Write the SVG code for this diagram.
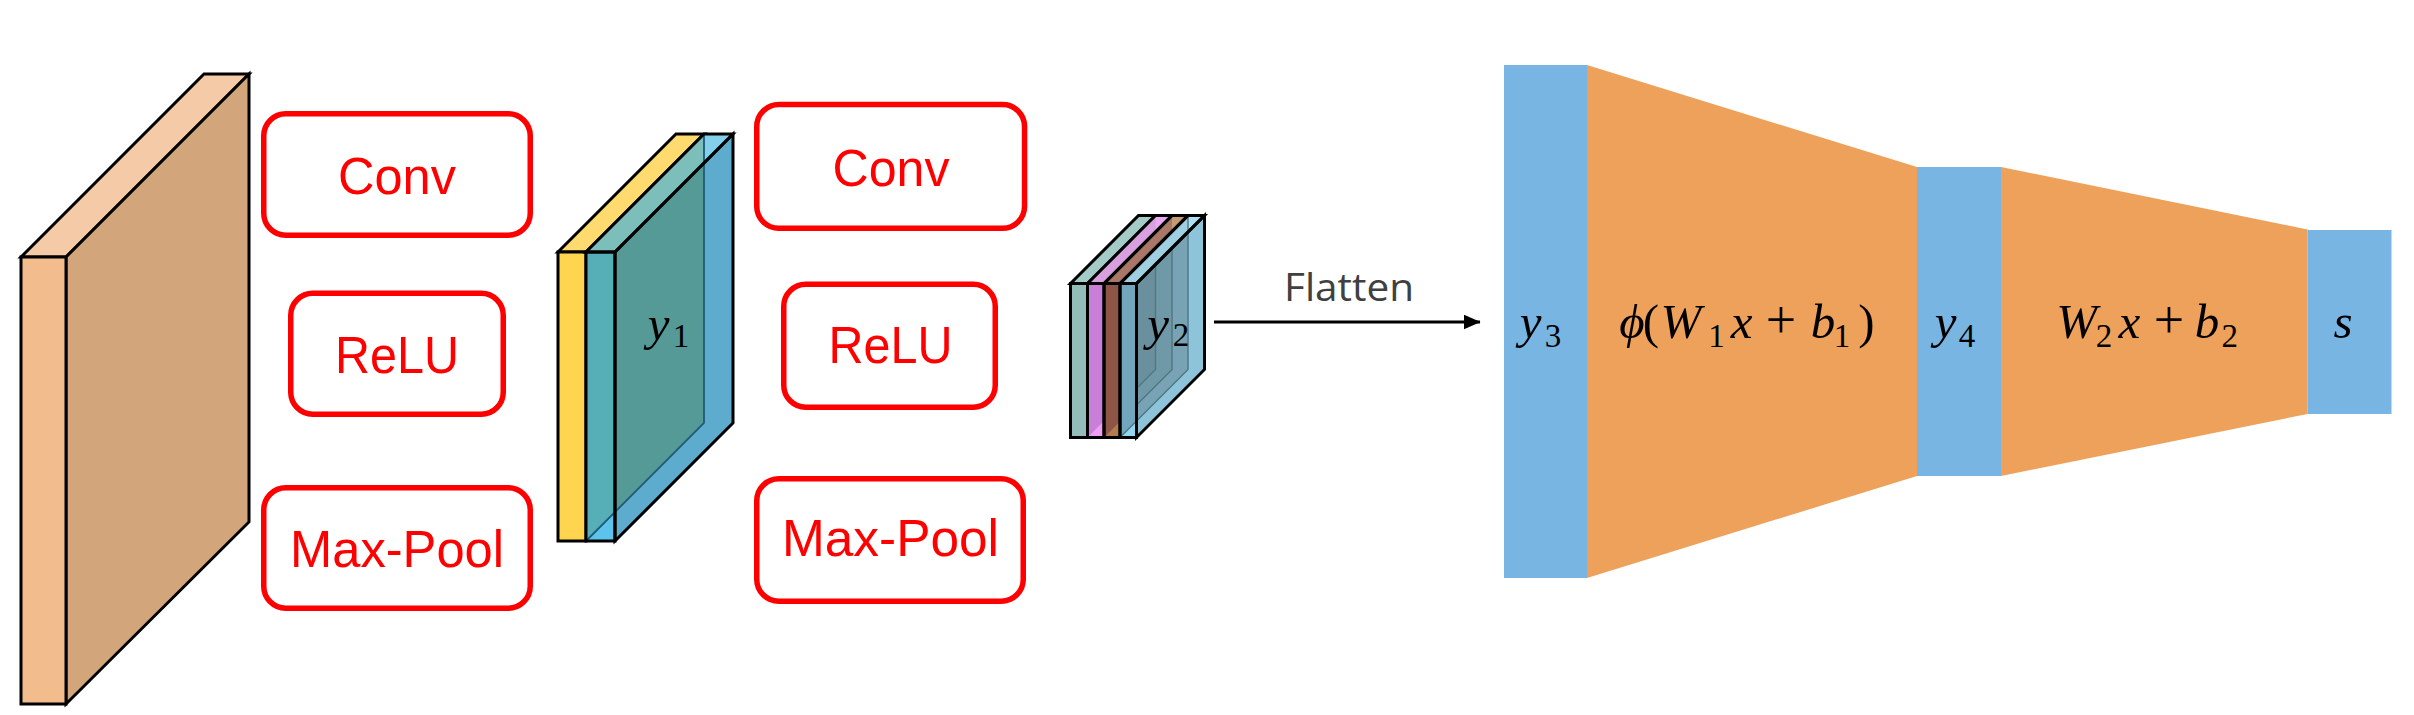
<svg xmlns="http://www.w3.org/2000/svg" width="2414" height="715" viewBox="0 0 2414 715">
  <style>
    .box { fill: #FFFFFF; stroke: #FF0000; stroke-width: 5.5; }
    .boxlabel { font-family: "Liberation Sans", Arial, sans-serif; font-size: 52px; fill: #FF0000; text-anchor: middle; }
    .edge { stroke: #000000; stroke-width: 3; stroke-linejoin: miter; }
    .hidden { fill: none; stroke: #1E5A78; stroke-width: 1.8; }
    .hidden2 { fill: none; stroke: #4E7684; stroke-width: 1.4; }
    .math { font-family: "Liberation Serif", "DejaVu Serif", serif; font-size: 49px; fill: #000000; text-anchor: middle; }
    .it { font-style: italic; }
    .sub { font-size: 33px; font-style: normal; }
    .op { font-size: 54px; }
    .bar { fill: #78B5E3; }
    .trap { fill: #EEA15A; }
    .flat { font-family: "Open Sans", "Liberation Sans", sans-serif; font-size: 38px; fill: #404040; text-anchor: middle; }
  </style>
  <defs>
    <marker id="arrowhead" markerWidth="6" markerHeight="6" refX="5.5" refY="2.5" orient="auto" markerUnits="strokeWidth">
      <path d="M0,0 L5.7,2.5 L0,5 Z" fill="#000000"/>
    </marker>
  </defs>
  <rect x="0" y="0" width="2414" height="715" fill="#FFFFFF"/>

  <!-- Input slab -->
  <g id="input">
    <polygon class="edge" points="21,257 204,74 249,74 66,257" fill="#F4CBA6"/>
    <polygon class="edge" points="66,257 249,74 249,522 66,704" fill="#D2A57B"/>
    <rect class="edge" x="21" y="257" width="45" height="447" fill="#F2BC8C"/>
  </g>

  <!-- First Conv / ReLU / Max-Pool -->
  <g id="conv1">
    <rect class="box" x="263.75" y="113.75" width="266.5" height="121.5" rx="22"/>
    <text class="boxlabel" x="397" y="194" textLength="118" lengthAdjust="spacingAndGlyphs">Conv</text>
  </g>
  <g id="relu1">
    <rect class="box" x="290.75" y="293.25" width="212.5" height="121" rx="22"/>
    <text class="boxlabel" x="397" y="373" textLength="124" lengthAdjust="spacingAndGlyphs">ReLU</text>
  </g>
  <g id="maxpool1">
    <rect class="box" x="263.75" y="487.75" width="266.5" height="120.5" rx="22"/>
    <text class="boxlabel" x="397" y="567" textLength="214" lengthAdjust="spacingAndGlyphs">Max-Pool</text>
  </g>

  <!-- y1 feature map -->
  <g id="y1">
    <polygon class="edge" points="558,252 676,134 704,134 586,252" fill="#FFDA6E"/>
    <rect class="edge" x="558" y="252" width="28" height="289" fill="#FFD44F"/>
    <polygon points="586,252 704,134 733,134 615,252" fill="#7BBEBA"/>
    <polygon points="704,134 733,134 704,163" fill="#84CFEA"/>
    <polygon points="615,252 733,134 733,423 615,541" fill="#5DACCD"/>
    <polygon points="615,252 704,163 704,423 615,512" fill="#559A97"/>
    <rect x="586" y="252" width="29" height="289" fill="#56AFB7"/>
    <polygon points="586,541 615,512 615,541" fill="#5BC3EC"/>
    <polyline class="hidden" points="704,134 704,423 586,541"/>
    <polygon class="edge" points="586,252 704,134 733,134 615,252" fill="none"/>
    <polygon class="edge" points="615,252 733,134 733,423 615,541" fill="none"/>
    <rect class="edge" x="586" y="252" width="29" height="289" fill="none"/>
    <text class="math" y="340"><tspan class="it" x="658.5">y</tspan><tspan class="sub" x="681" y="347">1</tspan></text>
  </g>

  <!-- Second Conv / ReLU / Max-Pool -->
  <g id="conv2">
    <rect class="box" x="756.75" y="104.5" width="267.8" height="123.8" rx="22"/>
    <text class="boxlabel" x="891" y="185.5" textLength="117" lengthAdjust="spacingAndGlyphs">Conv</text>
  </g>
  <g id="relu2">
    <rect class="box" x="783.75" y="284.25" width="211.5" height="123" rx="22"/>
    <text class="boxlabel" x="890.5" y="363" textLength="124" lengthAdjust="spacingAndGlyphs">ReLU</text>
  </g>
  <g id="maxpool2">
    <rect class="box" x="756.75" y="478.75" width="266.5" height="122.5" rx="22"/>
    <text class="boxlabel" x="890.5" y="556" textLength="217" lengthAdjust="spacingAndGlyphs">Max-Pool</text>
  </g>

  <!-- y2 feature map -->
  <g id="y2">
    <polygon class="edge" points="1070.5,283.5 1138.5,215.5 1155.5,215.5 1087.5,283.5" fill="#A5CBC8"/>
    <rect class="edge" x="1070.5" y="283.5" width="17" height="154" fill="#94BDBA"/>
    <polygon points="1087.5,283.5 1155.5,215.5 1172,215.5 1104,283.5" fill="#D9A0E0"/>
    <polygon points="1155.5,215.5 1172,215.5 1155.5,232" fill="#ECA8F2"/>
    <rect x="1087.5" y="283.5" width="16.5" height="154" fill="#C97FD7"/>
    <polygon points="1087.5,437.5 1104,421 1104,437.5" fill="#EE9FF2"/>
    <polygon points="1104,283.5 1172,215.5 1188,215.5 1120,283.5" fill="#A97767"/>
    <polygon points="1172,215.5 1188,215.5 1172,231.5" fill="#C59C72"/>
    <rect x="1104" y="283.5" width="16" height="154" fill="#8E5445"/>
    <polygon points="1104,437.5 1120,421.5 1120,437.5" fill="#B27C4E"/>
    <polygon points="1120,283.5 1188,215.5 1204.5,215.5 1136.5,283.5" fill="#9FCFE0"/>
    <polygon points="1188,215.5 1204.5,215.5 1188,232" fill="#AEE0F2"/>
    <rect x="1120" y="283.5" width="16.5" height="154" fill="#72A6BC"/>
    <polygon points="1120,437.5 1136.5,421 1136.5,437.5" fill="#92D6F0"/>
    <polygon points="1136.5,283.5 1204.5,215.5 1204.5,369.5 1136.5,437.5" fill="#8EC4DA"/>
    <polygon points="1136.5,283.5 1188,232 1188,369.5 1136.5,421" fill="#77A3B4"/>
    <polygon points="1136.5,283.5 1172,248 1172,369.5 1136.5,405" fill="#7099A8"/>
    <polygon points="1136.5,283.5 1155.5,264.5 1155.5,369.5 1136.5,388.5" fill="#6A909D"/>
    <polyline class="hidden2" points="1188,215.5 1188,369.5 1120,437.5"/>
    <polyline class="hidden2" points="1172,248 1172,369.5 1136.5,405"/>
    <polyline class="hidden2" points="1155.5,264.5 1155.5,369.5 1136.5,388.5"/>
    <polygon class="edge" points="1087.5,283.5 1155.5,215.5 1172,215.5 1104,283.5" fill="none"/>
    <polygon class="edge" points="1104,283.5 1172,215.5 1188,215.5 1120,283.5" fill="none"/>
    <polygon class="edge" points="1120,283.5 1188,215.5 1204.5,215.5 1136.5,283.5" fill="none"/>
    <polygon class="edge" points="1136.5,283.5 1204.5,215.5 1204.5,369.5 1136.5,437.5" fill="none"/>
    <rect class="edge" x="1087.5" y="283.5" width="16.5" height="154" fill="none"/>
    <rect class="edge" x="1104" y="283.5" width="16" height="154" fill="none"/>
    <rect class="edge" x="1120" y="283.5" width="16.5" height="154" fill="none"/>
    <text class="math" y="340"><tspan class="it" x="1158">y</tspan><tspan class="sub" x="1181" y="346">2</tspan></text>
  </g>

  <!-- Fully connected part -->
  <g id="fc1">
    <polygon class="trap" points="1587,65 1917,167 1917,476 1587,578"/>
    <text class="math" y="338"><tspan class="it" x="1632">ϕ</tspan><tspan x="1651">(</tspan><tspan class="it" x="1681">W</tspan><tspan class="sub" x="1716.5" y="347">1</tspan><tspan class="it" x="1741.5" y="338">x</tspan><tspan class="op" x="1781">+</tspan><tspan class="it" x="1823">b</tspan><tspan class="sub" x="1842" y="347">1</tspan><tspan x="1866.5" y="338">)</tspan></text>
  </g>
  <g id="fc2">
    <polygon class="trap" points="2001,167 2307.5,229.5 2307.5,414 2001,476"/>
    <text class="math" y="338"><tspan class="it" x="2076.6">W</tspan><tspan class="sub" x="2104" y="347">2</tspan><tspan class="it" x="2129.4" y="338">x</tspan><tspan class="op" x="2169">+</tspan><tspan class="it" x="2207">b</tspan><tspan class="sub" x="2229.7" y="347">2</tspan></text>
  </g>
  <g id="y3">
    <rect class="bar" x="1504" y="65" width="83" height="513"/>
    <text class="math" y="338"><tspan class="it" x="1530.5">y</tspan><tspan class="sub" x="1553" y="347">3</tspan></text>
  </g>
  <g id="y4">
    <rect class="bar" x="1917" y="167" width="84" height="309"/>
    <text class="math" y="338"><tspan class="it" x="1945.5">y</tspan><tspan class="sub" x="1967" y="347">4</tspan></text>
  </g>
  <g id="s">
    <rect class="bar" x="2307.5" y="230" width="84" height="184"/>
    <text class="math it" x="2343" y="338">s</text>
  </g>

  <!-- Connectors -->
  <g id="connectors">
    <line x1="1214" y1="322" x2="1480" y2="322" stroke="#000000" stroke-width="3" marker-end="url(#arrowhead)"/>
    <text class="flat" x="1349" y="300.7" textLength="130" lengthAdjust="spacingAndGlyphs">Flatten</text>
  </g>
</svg>
